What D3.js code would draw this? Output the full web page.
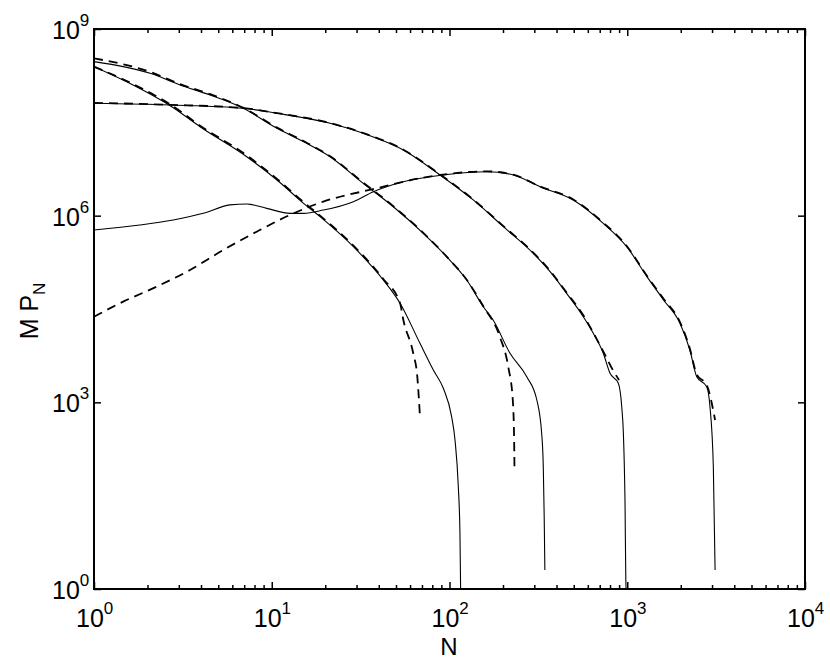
<!DOCTYPE html>
<html><head><meta charset="utf-8">
<script src="https://cdn.jsdelivr.net/npm/d3@7"></script>
<style>body{margin:0;background:#fff;} svg{display:block;font-family:"Liberation Sans",Arial,Helvetica,sans-serif;}</style>
</head><body>
<svg id="c" width="830" height="662"></svg>
<script>
// ---- data: [N, M*P_N] ----
const aSolid = [[1,2.48e8],[1.66,1.26e8],[2.74,5.64e7],[3.95,2.69e7],[7.23,8.87e6],[10.7,3.74e6],[15.1,1.58e6],[18.7,9.63e5],[28.8,3.17e5],[42.4,9.25e4],[52.7,3.91e4],[68.2,8.89e3],[81.1,3.31e3],[92.3,1.68e3],[102.8,588],[107.4,248],[112.1,44],[114.5,7.85],[115.6,0.8]];
const aDashed = [[1,2.48e8],[1.66,1.30e8],[2.74,5.9e7],[3.95,2.8e7],[7.23,9.3e6],[10.7,3.9e6],[15.1,1.65e6],[18.7,1.0e6],[28.8,3.3e5],[42.4,9.6e4],[52.7,3.91e4],[55.0,2.10e4],[62.5,6.14e3],[65.9,2.58e3],[68.2,588]];
const bSolid = [[1,2.99e8],[2.07,1.94e8],[3.05,1.26e8],[4.49,8.71e7],[6.92,5.32e7],[10.7,2.54e7],[15.1,1.55e7],[21.3,8.87e6],[32.7,3.31e6],[48.3,1.39e6],[71.2,5.21e5],[96.4,2.19e5],[125,9.25e4],[155,3.44e4],[176,2.10e4],[219,6.14e3],[272,2.58e3],[310,1.09e3],[330,318],[337,92.4],[341,14.5],[344,2.02]];
const bDashed = [[1,3.38e8],[2.07,2.04e8],[3.05,1.30e8],[4.49,9.0e7],[6.92,5.4e7],[10.7,2.6e7],[15.1,1.58e7],[21.3,9.0e6],[32.7,3.4e6],[48.3,1.42e6],[71.2,5.3e5],[96.4,2.2e5],[125,9.3e4],[155,3.5e4],[192,1.13e4],[214,3.74e3],[227,1.09e3],[231,248],[232,87.1]];
const cSolid = [[1,6.40e7],[2.68,6.01e7],[6.92,5.32e7],[10.7,4.42e7],[21.3,3.05e7],[32.7,2.11e7],[55.0,1.14e7],[88.5,4.51e6],[136,1.79e6],[201,6.65e5],[296,2.48e5],[368,1.26e5],[456,5.65e4],[566,2.38e4],[644,1.29e4],[733,6.14e3],[800,2.93e3],[891,2.02e3],[931,851],[951,318],[971,26.9],[984,1.09],[997,0.8]];
const cDashed = [[1,6.5e7],[2.68,6.05e7],[6.92,5.35e7],[10.7,4.45e7],[21.3,3.08e7],[32.7,2.13e7],[55.0,1.15e7],[88.5,4.6e6],[136,1.82e6],[201,6.8e5],[296,2.55e5],[368,1.3e5],[456,5.8e4],[566,2.5e4],[650,1.25e4],[745,6.0e3],[830,3.3e3],[899,2.29e3]];
const dSolid = [[1,5.89e5],[1.81,7.08e5],[2.79,8.53e5],[4.12,1.09e6],[5.82,1.49e6],[7.23,1.54e6],[9.37,1.31e6],[12.7,1.09e6],[15.1,1.09e6],[19.5,1.23e6],[28.8,1.68e6],[37.3,2.43e6],[55.0,3.52e6],[92.3,4.51e6],[162,5.09e6],[229,4.51e6],[323,2.92e6],[497,1.79e6],[733,7.54e5],[993,3.17e5],[1290,1.05e5],[1600,4.42e4],[1980,1.86e4],[2250,6.94e3],[2460,2.58e3],[2800,1.78e3],[2920,851],[3050,92.4],[3120,2.02]];
const dDashed = [[1,2.38e4],[1.46,4.15e4],[2.25,7.22e4],[3.47,1.34e5],[5.34,2.81e5],[8.23,5.53e5],[12.7,1.03e6],[19.5,1.68e6],[38.9,2.75e6],[68.2,3.99e6],[162,5.15e6],[229,4.55e6],[323,2.95e6],[497,1.82e6],[733,7.7e5],[993,3.25e5],[1290,1.08e5],[1600,4.6e4],[1980,1.95e4],[2250,7.3e3],[2460,2.8e3],[2800,1.9e3],[3120,520]];
const xMajor = [1,10,100,1000,10000];
const xMajorExp = ["0","1","2","3","4"];
const yMajor = [1,1e3,1e6,1e9];
const yMajorExp = ["0","3","6","9"];

// ---- layout ----
const L=94, R=805, T=29, B=589;
const svg = d3.select("#c");
const x = d3.scaleLog().domain([1,1e4]).range([L,R]);
const y = d3.scaleLog().domain([1,1e9]).range([B,T]);

svg.append("clipPath").attr("id","clip").append("rect")
  .attr("x",L).attr("y",T).attr("width",R-L).attr("height",B-T);

const line = d3.line().x(d=>x(d[0])).y(d=>y(d[1])).curve(d3.curveMonotoneX);
const g = svg.append("g").attr("clip-path","url(#clip)");
const solids=[aSolid,bSolid,cSolid,dSolid], dashes=[aDashed,bDashed,cDashed,dDashed];
dashes.forEach(s=>g.append("path").attr("d",line(s)).attr("fill","none")
  .attr("stroke","#000").attr("stroke-width",1.8).attr("stroke-dasharray","9,6"));
solids.forEach(s=>g.append("path").attr("d",line(s)).attr("fill","none")
  .attr("stroke","#000").attr("stroke-width",1.1));

// minor x ticks
const xMinor = [];
for (let d=1; d<1e4; d*=10) for (let k=2;k<=9;k++) xMinor.push(d*k);
function ticks(axisFn, scale, vals, size, tr){
  const a = svg.append("g").attr("transform",tr)
    .call(axisFn(scale).tickValues(vals).tickSize(size).tickFormat(""));
  a.select(".domain").remove();
  a.selectAll("line").attr("stroke","#000").attr("stroke-width",1.5);
}
ticks(d3.axisBottom,x,xMinor,-4,`translate(0,${B})`);
ticks(d3.axisBottom,x,xMajor,-7,`translate(0,${B})`);
ticks(d3.axisTop,x,xMinor,-4,`translate(0,${T})`);
ticks(d3.axisTop,x,xMajor,-7,`translate(0,${T})`);
ticks(d3.axisLeft,y,yMajor,-7,`translate(${L},0)`);
ticks(d3.axisRight,y,yMajor,-7,`translate(${R},0)`);

svg.append("rect").attr("x",L).attr("y",T).attr("width",R-L).attr("height",B-T)
  .attr("fill","none").attr("stroke","#000").attr("stroke-width",2);

// tick labels
xMajor.forEach((v,i)=>{
  const t = svg.append("text").attr("x",x(v)-18).attr("y",627).attr("font-size",25);
  t.append("tspan").text("10");
  t.append("tspan").attr("font-size",17).attr("dy",-13).text(xMajorExp[i]);
});
yMajor.forEach((v,i)=>{
  const t = svg.append("text").attr("x",52).attr("y",y(v)+10).attr("font-size",25);
  t.append("tspan").text("10");
  t.append("tspan").attr("font-size",17).attr("dy",-13).text(yMajorExp[i]);
});
svg.append("text").attr("x",449).attr("y",655).attr("text-anchor","middle")
  .attr("font-size",24).text("N");
const yl = svg.append("text").attr("transform","translate(38,311) rotate(-90)")
  .attr("text-anchor","middle").attr("font-size",25);
yl.append("tspan").text("M P");
yl.append("tspan").attr("font-size",17).attr("dy",7).text("N");
</script>
</body></html>
